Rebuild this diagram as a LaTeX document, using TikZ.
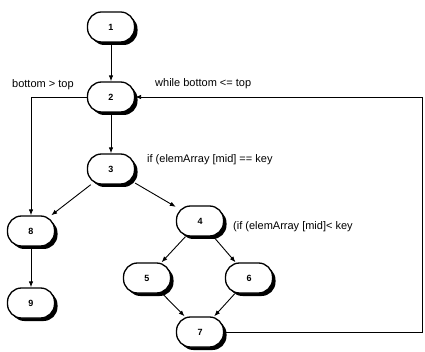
\documentclass[tikz,border=0pt]{standalone}
\usepackage{fontspec}
\setmainfont{Liberation Sans}
\usetikzlibrary{arrows.meta,shadows}

\begin{document}
\begin{tikzpicture}[x=1pt,y=-1pt,
        nd/.style={draw=black,fill=white,rounded corners=14pt,
                   minimum width=47pt,minimum height=30pt,
                   font=\bfseries\small,line width=1.3pt,
                   drop shadow={shadow xshift=3pt,shadow yshift=-3pt,
                                fill=black,opacity=1}},
        ed/.style={draw=black,line width=0.9pt,-{Latex[length=6pt,width=4.5pt]}},
        lb/.style={anchor=west,inner sep=0pt,font=\fontsize{11}{13}\selectfont}]

        \useasboundingbox (0,0) rectangle (425,352);

        \node[nd] (n1) at (111,27) {1};
        \node[nd] (n2) at (111,97) {2};
        \node[nd] (n3) at (111,169) {3};
        \node[nd] (n8) at (31,231) {8};
        \node[nd] (n9) at (31,303) {9};
        \node[nd] (n4) at (200,221) {4};
        \node[nd] (n5) at (147,278) {5};
        \node[nd] (n6) at (249,278) {6};
        \node[nd] (n7) at (200,332) {7};
        \coordinate (rt) at (422,332);

        \foreach \a/\b in {n1/n2,n2/n3,n3/n8,n3/n4,n8/n9,
                            n4/n5,n4/n6,n5/n7,n6/n7}{
          \draw[ed] (\a)--(\b);
        }
        \draw[ed] (n2.west) -| (n8.north);
        \draw[ed] (n7.east) -- (n7.east -| rt) |- (n2.east);

        % rotulos
        \node[lb] (t1) at (12,85) {bottom > top};
        \node[lb] (t2) at (155,84) {while bottom <= top};
        \node[lb] (t3) at (147,160) {if (elemArray [mid] == key};
        \node[lb] (t4) at (233,227) {(if (elemArray [mid]< key};
      \end{tikzpicture}
\end{document}
